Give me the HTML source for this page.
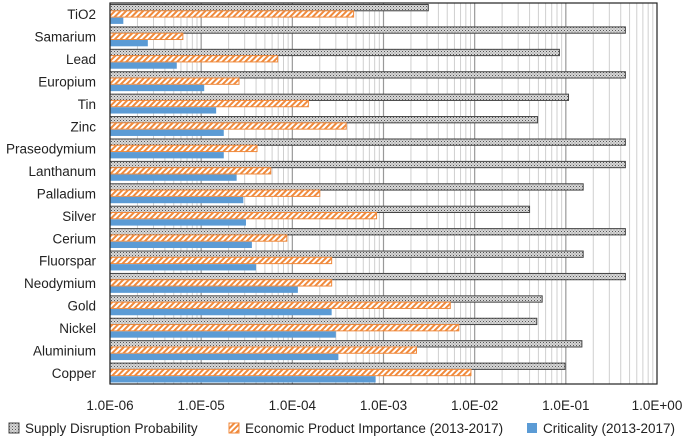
<!DOCTYPE html>
<html><head><meta charset="utf-8"><style>
body{margin:0;background:#fff;font-family:"Liberation Sans",sans-serif;}
svg text{font-family:"Liberation Sans",sans-serif;fill:#222;}
</style></head><body>
<svg id="chart" width="685" height="440">
<defs>
<pattern id="dots" width="3" height="3" patternUnits="userSpaceOnUse"><rect width="3" height="3" fill="#d8d8d8"/><rect width="1" height="1" fill="#555"/><rect x="1.5" y="1.5" width="1" height="1" fill="#888"/></pattern>
<pattern id="hatch" width="4" height="4" patternUnits="userSpaceOnUse" patternTransform="rotate(45)"><rect width="4" height="4" fill="#fff"/><rect width="2" height="4" fill="#f08a3c"/></pattern>
</defs>
<g id="grid"></g><g id="bars"></g><g id="labels"></g>
<rect x="110" y="3" width="547" height="381" fill="none" stroke="#222" stroke-width="1.2"/>
<g font-size="13.5">
<g><rect x="9" y="423" width="10" height="10" fill="url(#dots)" stroke="#444"/><text x="25" y="433">Supply Disruption Probability</text></g>
<g><rect x="229" y="423" width="10" height="10" fill="url(#hatch)" stroke="#f08a3c"/><text x="245" y="433">Economic Product Importance (2013-2017)</text></g>
<g><rect x="527" y="423" width="10" height="10" fill="#5b9bd5"/><text x="543" y="433">Criticality (2013-2017)</text></g>
</g>
</svg>
<script>
const categories=["TiO2","Samarium","Lead","Europium","Tin","Zinc","Praseodymium","Lanthanum","Palladium","Silver","Cerium","Fluorspar","Neodymium","Gold","Nickel","Aluminium","Copper"];
const supplyDisruption=[3.1e-3,0.45,8.5e-2,0.45,0.107,4.9e-2,0.45,0.45,0.155,4.0e-2,0.45,0.155,0.45,5.5e-2,4.8e-2,0.15,9.8e-2];
const economicImportance=[4.7e-4,6.3e-6,6.9e-5,2.6e-5,1.5e-4,3.9e-4,4.1e-5,5.8e-5,2.0e-4,8.4e-4,8.7e-5,2.7e-4,2.7e-4,5.4e-3,6.7e-3,2.3e-3,9.1e-3];
const criticality=[1.4e-6,2.6e-6,5.4e-6,1.08e-5,1.46e-5,1.77e-5,1.77e-5,2.45e-5,2.9e-5,3.1e-5,3.6e-5,4.0e-5,1.15e-4,2.7e-4,3.0e-4,3.2e-4,8.2e-4];
const tickExponents=[-6,-5,-4,-3,-2,-1,0];
const tickLabels=["1.0E-06","1.0E-05","1.0E-04","1.0E-03","1.0E-02","1.0E-01","1.0E+00"];
const NS="http://www.w3.org/2000/svg";
const L=110,R=657,T=3,B=384;
const x=v=>L+(Math.log10(v)+6)/6*(R-L);
const band=(B-T)/categories.length;
const y=i=>T+i*band;
function mk(tag,a,p){const e=document.createElementNS(NS,tag);for(const k in a)e.setAttribute(k,a[k]);p.appendChild(e);return e;}
const grid=document.getElementById('grid'),bars=document.getElementById('bars'),lab=document.getElementById('labels');
for(let e=-6;e<0;e++){for(let m=1;m<10;m++){const xx=x(m*Math.pow(10,e));
const ln=mk('line',{x1:xx,x2:xx,y1:T,y2:B,stroke:m==1?'#999':'#cfcfcf','stroke-width':m==1?1.2:1},grid);

}}
tickExponents.forEach((e,i)=>{const t=mk('text',{x:x(Math.pow(10,e)),y:410,'text-anchor':'middle','font-size':'13.5'},lab);t.textContent=tickLabels[i];

});
categories.forEach((c,i)=>{const y0=y(i);
const t=mk('text',{x:96,y:y0+band/2+5,'text-anchor':'end','font-size':'13.5'},lab);t.textContent=c;


const h=6.3,base=y0+1.5;
const b1=mk('rect',{x:L,y:base,width:x(supplyDisruption[i])-L,height:h,fill:'url(#dots)',stroke:'#444','stroke-width':1},bars);


const b2=mk('rect',{x:L,y:base+h,width:x(economicImportance[i])-L,height:h,fill:'url(#hatch)',stroke:'#f08a3c','stroke-width':1},bars);


const b3=mk('rect',{x:L,y:base+2*h+0.5,width:x(criticality[i])-L,height:h,fill:'#5b9bd5'},bars);

});
</script>
</body></html>
